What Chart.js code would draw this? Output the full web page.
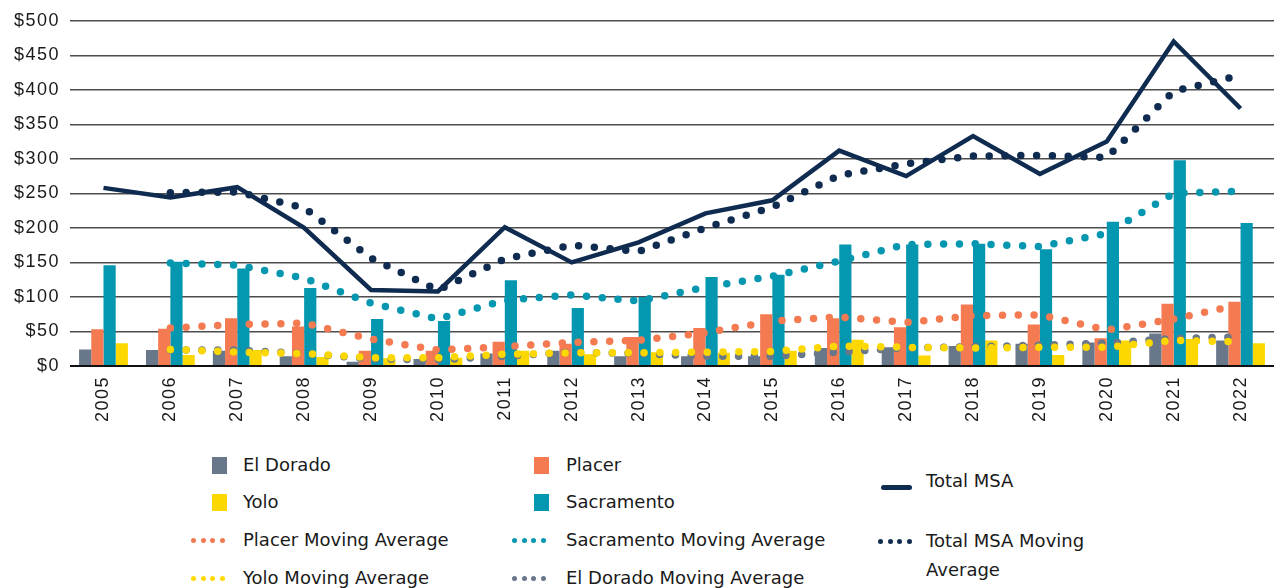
<!DOCTYPE html>
<html>
<head>
<meta charset="utf-8">
<script src="https://cdn.jsdelivr.net/npm/chart.js@4"></script>
<style>
  body { margin: 0; background: #fff; width: 1276px; height: 588px; overflow: hidden; position: relative; }
  #wrap { position: absolute; left: 0; top: 0; width: 1276px; height: 438px; }
  .lg { position: absolute; font-family: "DejaVu Sans", sans-serif; font-size: 18px; color: #1a1a1a; line-height: 29px; white-space: nowrap; }
  .sw { position: absolute; width: 15px; height: 17px; }
  .dots { position: absolute; height: 5px; }
  .dots i { display: inline-block; width: 5px; height: 5px; border-radius: 50%; margin-right: 4.5px; vertical-align: top; }
  .ln { position: absolute; height: 5px; border-radius: 3px; background: #0f2b50; }
</style>
</head>
<body>
<div id="wrap"><canvas id="myChart"></canvas></div>
<div id="legend"></div>
<script>
const years = ['2005','2006','2007','2008','2009','2010','2011','2012','2013','2014','2015','2016','2017','2018','2019','2020','2021','2022'];

const elDorado   = [24, 23, 22, 14, 6, 10, 18, 22, 14, 14, 14, 26, 27, 29, 32, 34, 47, 37];
const placer     = [53, 54, 69, 57, 22, 22, 35, 32, 42, 55, 75, 69, 56, 89, 60, 40, 90, 93];
const sacramento = [146, 151, 141, 113, 68, 65, 124, 84, 100, 129, 132, 176, 176, 177, 169, 209, 298, 207];
const yolo       = [33, 16, 23, 13, 11, 12, 22, 17, 20, 19, 22, 38, 15, 37, 16, 37, 39, 33];
const totalMSA   = [258, 244, 259, 200, 110, 108, 201, 150, 179, 221, 240, 312, 275, 333, 278, 325, 470, 373];

// moving averages (first year has no point)
const placerMA     = [null, 55, 60, 62, 39, 23, 28, 34, 37, 48, 65, 71, 63, 73, 74, 52, 68, 89];
const sacramentoMA = [null, 149, 146, 127, 91, 68, 95, 103, 94, 114, 130, 152, 176, 177, 173, 192, 250, 253];
const yoloMA       = [null, 24, 20, 18, 12, 12, 17, 19, 19, 20, 21, 29, 27, 26, 27, 27, 37, 35];
const elDoradoMA   = [null, 23, 23, 18, 10, 9, 14, 20, 18, 14, 14, 20, 26, 28, 30, 33, 40, 42];
const totalMA      = [null, 251, 252, 229, 156, 110, 155, 175, 166, 200, 230, 276, 293, 304, 305, 302, 398, 421];

const yTicks = [0, 50, 100, 150, 200, 250, 300, 350, 400, 450, 500];

const colors = {
  elDorado: '#687789',
  placer: '#f47a52',
  sacramento: '#0596b0',
  yolo: '#fdd800',
  total: '#0f2b50'
};

function bar(label, data, color) {
  return { type: 'bar', label: label, data: data, backgroundColor: color, order: 10,
    categoryPercentage: 0.73, barPercentage: 1.0 };
}
function dotted(label, data, color) {
  return { type: 'line', label: label, data: data, borderColor: color, borderWidth: 7.5,
    borderDash: [0, 15.8], borderCapStyle: 'round', pointRadius: 0, fill: false, order: 2, tension: 0 };
}

const spacing = {
  id: 'spacing',
  beforeUpdate(chart) { chart.ctx.letterSpacing = '1.5px'; },
  beforeDraw(chart) { chart.ctx.letterSpacing = '1.5px'; }
};

const ctx = document.getElementById('myChart').getContext('2d');
new Chart(ctx, {
  data: {
    labels: years,
    datasets: [
      bar('El Dorado', elDorado, colors.elDorado),
      bar('Placer', placer, colors.placer),
      bar('Sacramento', sacramento, colors.sacramento),
      bar('Yolo', yolo, colors.yolo),
      dotted('Yolo Moving Average', yoloMA, colors.yolo),
      dotted('El Dorado Moving Average', elDoradoMA, colors.elDorado),
      dotted('Placer Moving Average', placerMA, colors.placer),
      dotted('Sacramento Moving Average', sacramentoMA, colors.sacramento),
      dotted('Total MSA Moving Average', totalMA, colors.total),
      { type: 'line', label: 'Total MSA', data: totalMSA, borderColor: colors.total, borderWidth: 4.5,
        pointRadius: 0, fill: false, order: 1, tension: 0 }
    ]
  },
  plugins: [spacing],
  options: {
    responsive: true,
    maintainAspectRatio: false,
    animation: false,
    layout: { padding: { top: 10, right: 2, left: 4, bottom: 6 } },
    plugins: { legend: { display: false }, tooltip: { enabled: false } },
    scales: {
      x: {
        grid: { display: false, drawTicks: false },
        border: { display: false },
        ticks: { minRotation: 90, maxRotation: 90, padding: 10, color: '#1a1a1a',
          font: { family: 'Liberation Sans', size: 18 } }
      },
      y: {
        min: 0, max: 500,
        afterBuildTicks(axis) { axis.ticks = yTicks.map(v => ({ value: v })); },
        grid: {
          drawTicks: false,
          color: c => c.tick && c.tick.value === 0 ? '#111' : '#4d4d4d',
          lineWidth: c => c.tick && c.tick.value === 0 ? 2 : 1.5
        },
        border: { display: false },
        ticks: { padding: 10, color: '#1a1a1a', font: { family: 'Liberation Sans', size: 18 },
          callback: v => '$' + v }
      }
    }
  }
});

// legend
const legendItems = [
  { kind: 'box', color: colors.elDorado, text: 'El Dorado', x: 212, tx: 243, y: 465 },
  { kind: 'box', color: colors.placer, text: 'Placer', x: 534, tx: 566, y: 465 },
  { kind: 'box', color: colors.yolo, text: 'Yolo', x: 212, tx: 243, y: 502 },
  { kind: 'box', color: colors.sacramento, text: 'Sacramento', x: 534, tx: 566, y: 502 },
  { kind: 'dots', color: colors.placer, text: 'Placer Moving Average', x: 191, tx: 243, y: 540 },
  { kind: 'dots', color: colors.sacramento, text: 'Sacramento Moving Average', x: 512, tx: 566, y: 540 },
  { kind: 'dots', color: colors.yolo, text: 'Yolo Moving Average', x: 191, tx: 243, y: 578 },
  { kind: 'dots', color: colors.elDorado, text: 'El Dorado Moving Average', x: 512, tx: 566, y: 578 },
  { kind: 'line', color: colors.total, text: 'Total MSA', x: 881, tx: 926, y: 481 },
  { kind: 'dots', color: colors.total, text: 'Total MSA Moving<br>Average', x: 878, tx: 926, y: 541 }
];
const lg = document.getElementById('legend');
legendItems.forEach(it => {
  let m;
  if (it.kind === 'box') {
    m = document.createElement('div');
    m.className = 'sw';
    m.style.background = it.color;
    m.style.left = it.x + 'px';
    m.style.top = (it.y - 8) + 'px';
  } else if (it.kind === 'dots') {
    m = document.createElement('div');
    m.className = 'dots';
    m.style.left = it.x + 'px';
    m.style.top = (it.y - 2) + 'px';
    m.innerHTML = '<i></i><i></i><i></i><i></i>'.replace(/<i>/g, '<i style="background:' + it.color + '">');
  } else {
    m = document.createElement('div');
    m.className = 'ln';
    m.style.left = it.x + 'px';
    m.style.width = '31px';
    m.style.top = (it.y + 4) + 'px';
  }
  lg.appendChild(m);
  const t = document.createElement('div');
  t.className = 'lg';
  t.innerHTML = it.text;
  t.style.left = it.tx + 'px';
  t.style.top = (it.y - 15) + 'px';
  lg.appendChild(t);
});
</script>
</body>
</html>
